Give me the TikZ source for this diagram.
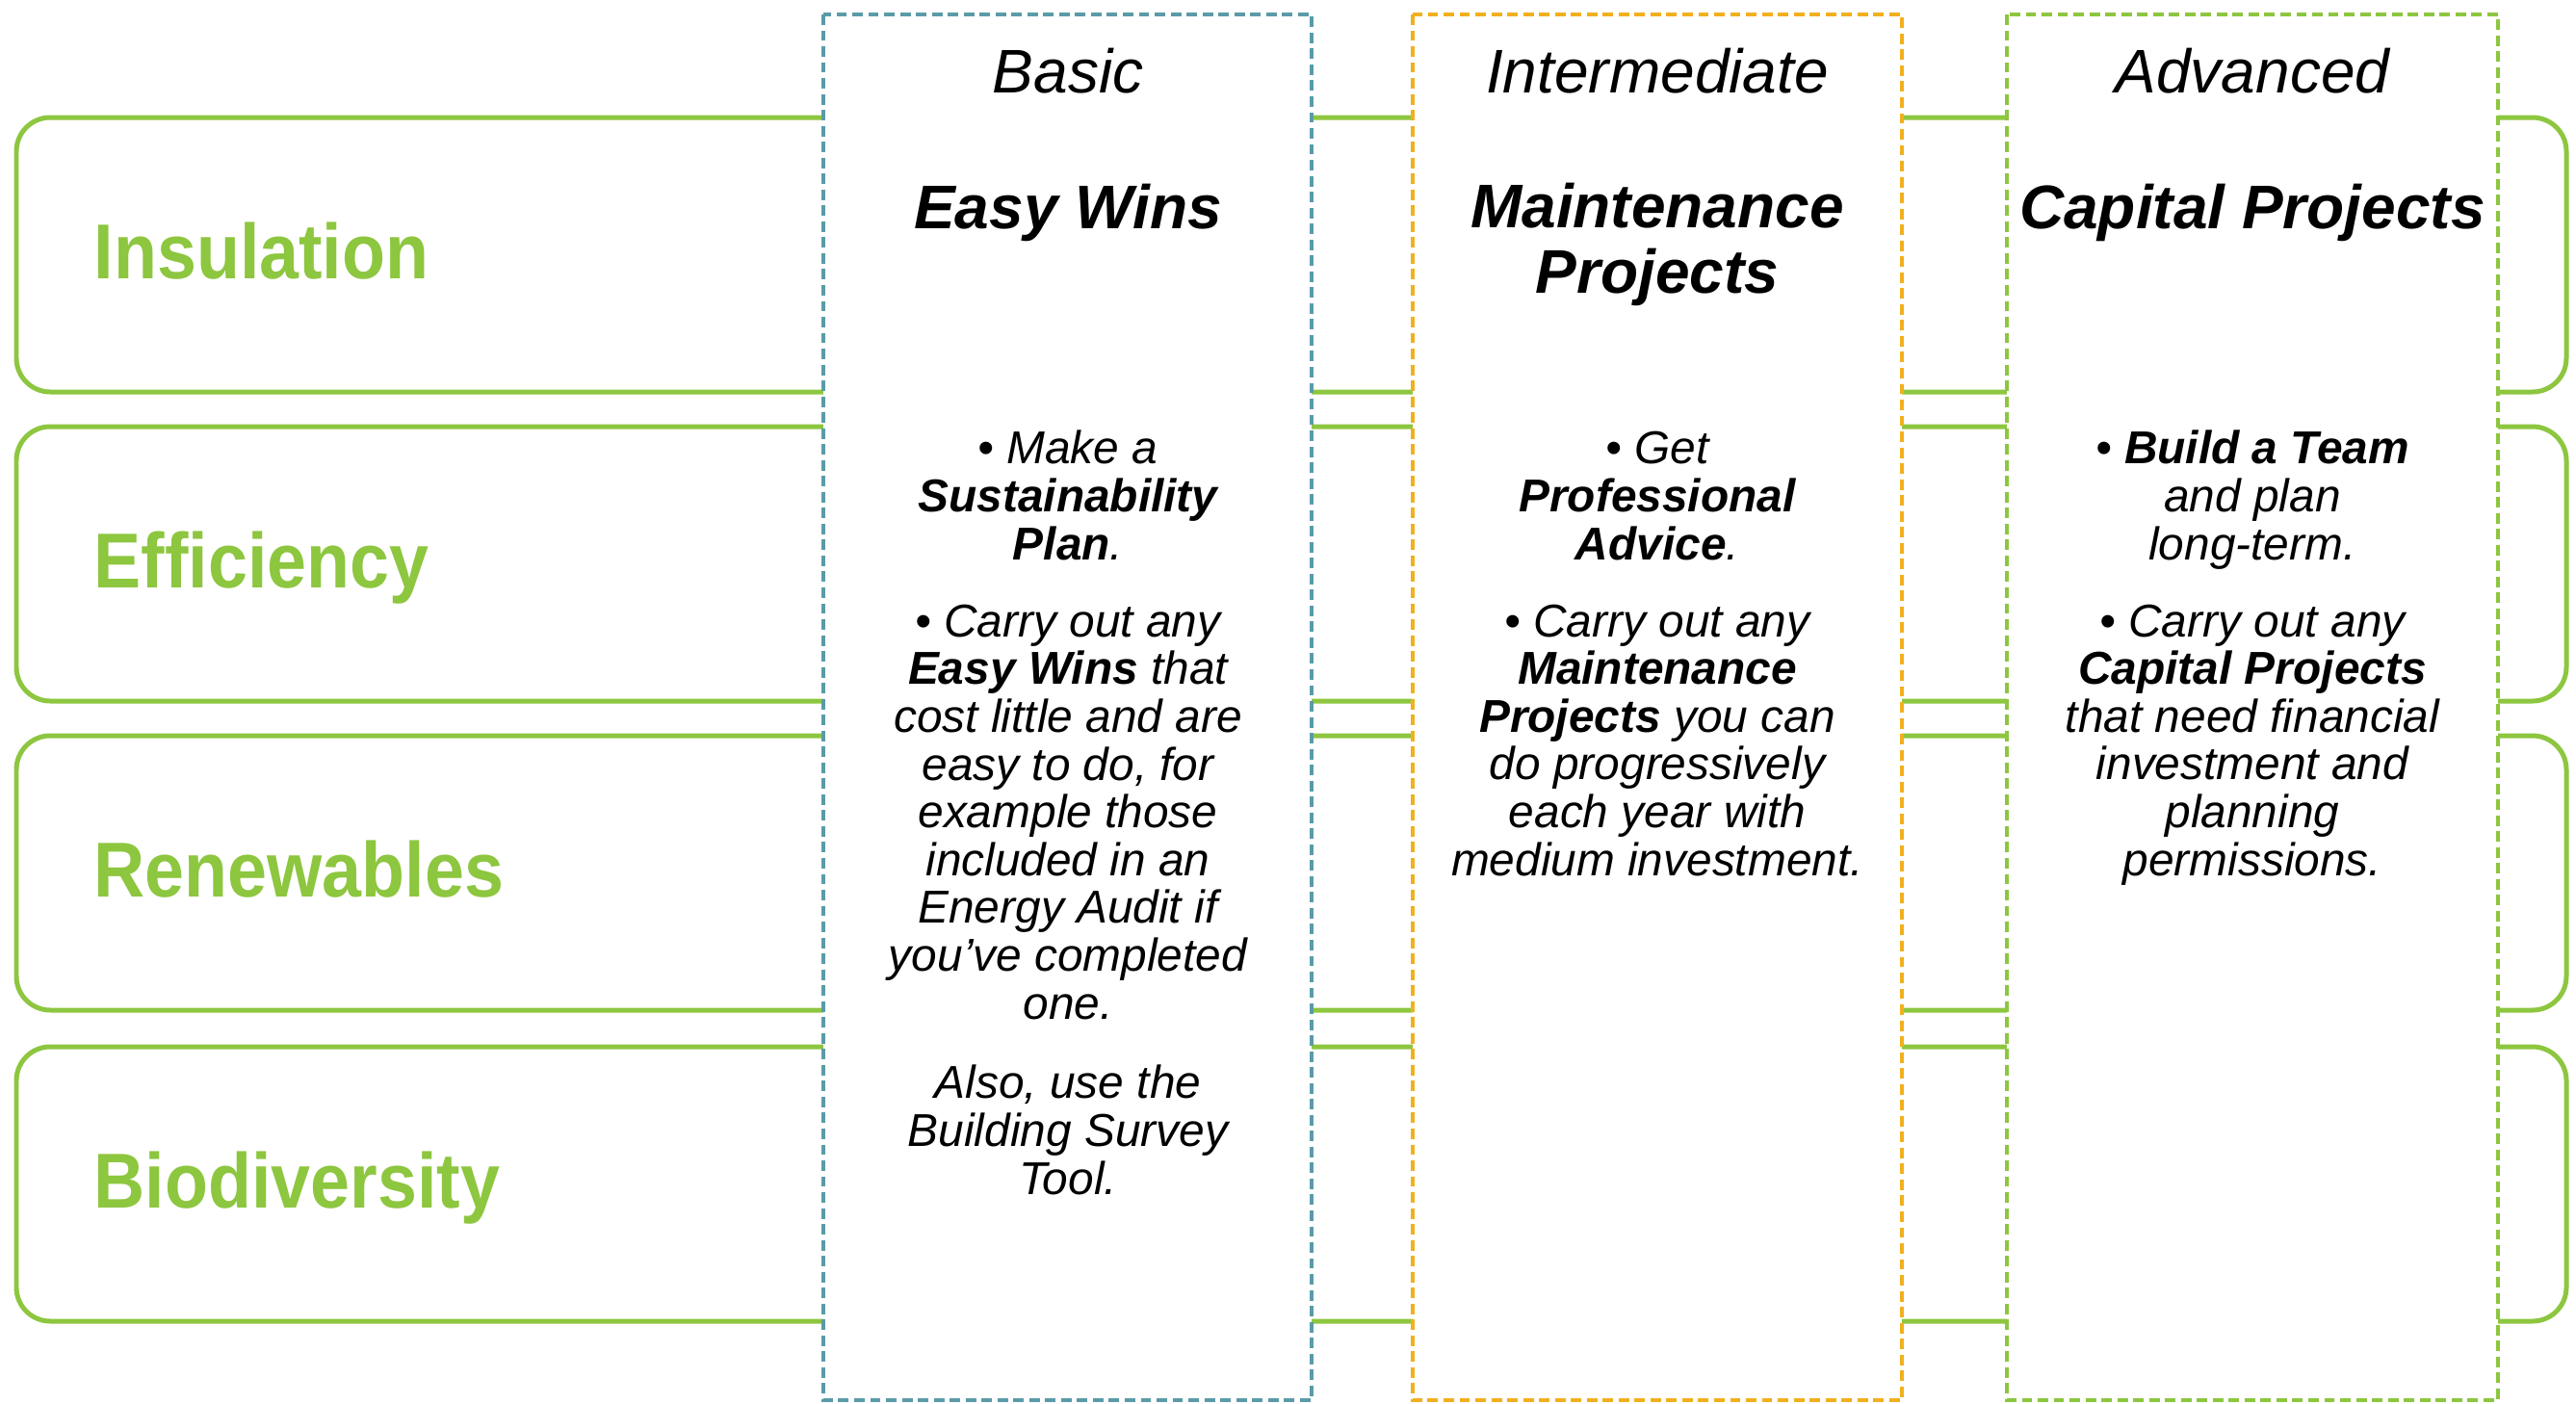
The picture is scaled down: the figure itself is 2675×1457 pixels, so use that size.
\documentclass[tikz,border=0pt]{standalone}
\usepackage{fontspec}
\setmainfont{Liberation Sans}
\newfontfamily\rowfont[FakeStretch=0.91]{Liberation Sans}
\definecolor{leafgreen}{HTML}{8DC63F}
\definecolor{tealcol}{HTML}{5B9BA8}
\definecolor{ambercol}{HTML}{F2B01E}
\begin{document}
\begin{tikzpicture}[x=0.01cm,y=-0.01cm,
  rowbox/.style={draw=leafgreen, line width=1.42pt, rounded corners=10pt},
  colbox/.style={fill=white, line width=1.15pt, dash pattern=on 3.1pt off 1.6pt},
  rowlabel/.style={font=\rowfont\bfseries\fontsize{23}{24}\selectfont, text=leafgreen, inner sep=0pt, anchor=base west},
  levelhead/.style={font=\fontsize{18.2}{19}\selectfont\itshape, inner sep=0pt, anchor=base},
  titlehead/.style={font=\fontsize{18.2}{19.1}\selectfont\bfseries\itshape, align=center, inner sep=0pt, anchor=base},
  bodytext/.style={font=\fontsize{13.6}{14.1}\selectfont\itshape, align=center, inner sep=0pt, anchor=base}]
\useasboundingbox (0,0) rectangle (2675,1457);
% rows
\draw[rowbox] (17,122) rectangle (2665,407);
\draw[rowbox] (17,443) rectangle (2665,728);
\draw[rowbox] (17,764) rectangle (2665,1049);
\draw[rowbox] (17,1087) rectangle (2665,1372);
\node[rowlabel] (ins) at (97,289) {Insulation};
\node[rowlabel] (eff) at (97,610) {Efficiency};
\node[rowlabel] (ren) at (97,931) {Renewables};
\node[rowlabel] (bio) at (97,1254) {Biodiversity};
% columns
\draw[colbox, draw=tealcol] (855,15) rectangle (1362,1454);
\draw[colbox, draw=ambercol] (1467,15) rectangle (1975,1454);
\draw[colbox, draw=leafgreen] (2084,15) rectangle (2594,1454);
% headings (anchor base = baseline of last line)
\node[levelhead] (basic) at (1109,96) {Basic};
\node[levelhead] (inter) at (1721,96) {Intermediate};
\node[levelhead] (adv) at (2339,96) {Advanced};
\node[titlehead] (easy) at (1109,237) {Easy Wins};
\node[titlehead] (maint) at (1721,304) {Maintenance\\Projects};
\node[titlehead] (cap) at (2339,237) {Capital Projects};
% basic body
\node[bodytext] (b1) at (1109,581) {• Make a\\\textbf{Sustainability}\\\textbf{Plan}.};
\node[bodytext] (b2) at (1109,1058) {• Carry out any\\\textbf{Easy Wins} that\\cost little and are\\easy to do, for\\example those\\included in an\\Energy Audit if\\you’ve completed\\one.};
\node[bodytext] (b3) at (1109,1240) {Also, use the\\Building Survey\\Tool.};
% intermediate body
\node[bodytext] (i1) at (1721,581) {• Get\\\textbf{Professional}\\\textbf{Advice}.};
\node[bodytext] (i2) at (1721,909) {• Carry out any\\\textbf{Maintenance}\\\textbf{Projects} you can\\do progressively\\each year with\\medium investment.};
% advanced body
\node[bodytext] (a1) at (2339,581) {• \textbf{Build a Team}\\and plan\\long-term.};
\node[bodytext] (a2) at (2339,909) {• Carry out any\\\textbf{Capital Projects}\\that need financial\\investment and\\planning\\permissions.};
\end{tikzpicture}
\end{document}
